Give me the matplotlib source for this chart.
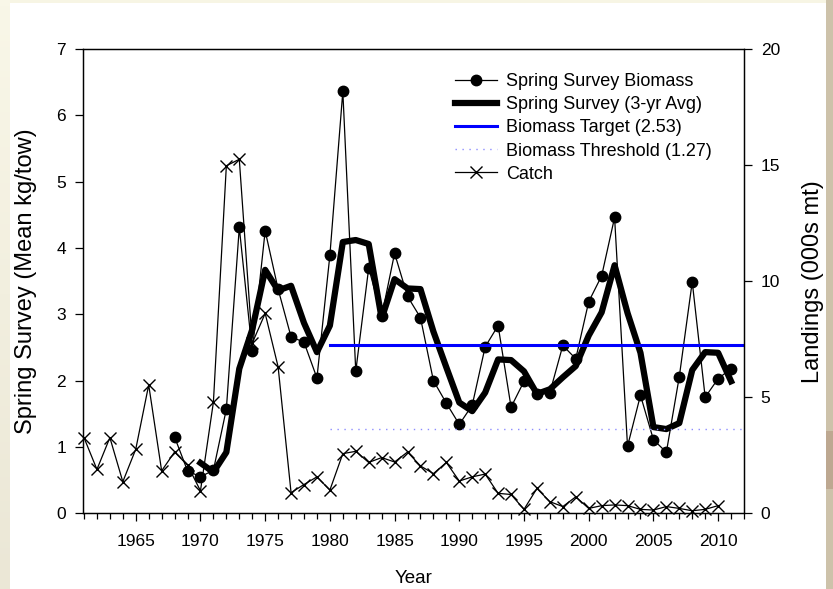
import matplotlib
matplotlib.use('Agg')
import matplotlib.pyplot as plt
import numpy as np
from matplotlib.patches import Rectangle
from matplotlib.ticker import MultipleLocator

plt.rcParams['font.family'] = ['Liberation Sans', 'DejaVu Sans']

# landings (000s mt), right axis
catch_years = list(range(1961, 2011))
catch = [3.26, 1.89, 3.26, 1.36, 2.76, 5.53, 1.83, 2.64, 2.07, 0.97,
         4.79, 14.97, 15.25, 7.33, 8.61, 6.31, 0.89, 1.24, 1.57, 1.00,
         2.57, 2.67, 2.19, 2.40, 2.21, 2.64, 2.04, 1.71, 2.19, 1.39,
         1.57, 1.69, 0.86, 0.81, 0.17, 1.07, 0.50, 0.29, 0.71, 0.21,
         0.33, 0.36, 0.33, 0.17, 0.14, 0.29, 0.21, 0.11, 0.17, 0.33]

# spring survey biomass (mean kg/tow), left axis
survey_years = list(range(1968, 2012))
survey = [1.15, 0.64, 0.55, 0.65, 1.57, 4.31, 2.44, 4.26, 3.38, 2.66,
          2.58, 2.04, 3.89, 6.36, 2.14, 3.70, 2.97, 3.92, 3.27, 2.95,
          2.00, 1.66, 1.34, 1.63, 2.51, 2.83, 1.60, 1.99, 1.80, 1.82,
          2.53, 2.33, 3.19, 3.58, 4.46, 1.01, 1.78, 1.11, 0.92, 2.06,
          3.49, 1.75, 2.03, 2.18]

avg_years = list(range(1970, 2012))
survey_avg = [0.76, 0.62, 0.92, 2.18, 2.77, 3.67, 3.36, 3.43, 2.87, 2.43,
              2.83, 4.09, 4.12, 4.06, 2.94, 3.53, 3.39, 3.38, 2.74, 2.20,
              1.67, 1.54, 1.82, 2.32, 2.31, 2.14, 1.80, 1.87, 2.05, 2.22,
              2.68, 3.03, 3.74, 3.02, 2.42, 1.30, 1.27, 1.36, 2.16, 2.43,
              2.42, 1.99]

target = 2.53
threshold = 1.27
ref_years = [1980, 2012]

fig = plt.figure(figsize=(8.33, 5.89), dpi=100)
fig.patch.set_facecolor('#f7f5e4')

# slide background: cream strip on the left (slight gradient), white page, tan strip right
bg = fig.add_axes([0, 0, 1, 1], zorder=-10)
bg.axis('off')
grad = np.linspace(0, 1, 100).reshape(-1, 1)
bg.imshow(grad, extent=[0, 10/833, 0, 1], aspect='auto', cmap=matplotlib.colors.LinearSegmentedColormap.from_list('cr', ['#f9f7e8', '#ebe7d6']),
          origin='upper')
bg.add_patch(Rectangle((10/833, 0), 816/833, 586/589, facecolor='white', edgecolor='none'))
bg.add_patch(Rectangle((826/833, 0), 7/833, 1, facecolor='#cdc2aa', edgecolor='none'))
bg.add_patch(Rectangle((826/833, 100/589), 7/833, 58/589, facecolor='#bda891', edgecolor='none'))
bg.set_xlim(0, 1)
bg.set_ylim(0, 1)

ax = fig.add_axes([82.7/833, 75.7/589, 661.3/833, 464.3/589])
ax.set_facecolor('none')
ax2 = ax.twinx()

l1, = ax.plot(survey_years, survey, color='black', lw=0.9, marker='o', ms=7.5,
              label='Spring Survey Biomass')
l2, = ax.plot(avg_years, survey_avg, color='black', lw=4.5, solid_joinstyle='round',
              label='Spring Survey (3-yr Avg)')
l3, = ax.plot(ref_years, [target, target], color='#0000ff', lw=2.2,
              label='Biomass Target (2.53)')
l4, = ax.plot(ref_years, [threshold, threshold], color='#8c8cff', lw=1.0, ls=(0, (1, 4)),
              label='Biomass Threshold (1.27)')
l5, = ax2.plot(catch_years, catch, color='black', lw=0.9, marker='x', ms=8, mew=1.0,
               label='Catch', clip_on=False)

ax.set_xlim(1960.9, 2012)
ax.set_ylim(0, 7)
ax2.set_ylim(0, 20)

ax.xaxis.set_major_locator(MultipleLocator(5))
ax.xaxis.set_minor_locator(MultipleLocator(1))
ax.set_yticks(range(0, 8))
ax2.set_yticks([0, 5, 10, 15, 20])

ax.tick_params(axis='x', which='major', direction='out', length=6, width=0.9, labelsize=12.5, pad=9)
ax.tick_params(axis='x', which='minor', direction='out', length=4, width=0.9)
ax.tick_params(axis='y', direction='out', length=6, width=0.9, labelsize=12.5, pad=6)
ax2.tick_params(axis='y', direction='out', length=6, width=0.9, labelsize=12.5, pad=6)
for a in (ax, ax2):
    for s in a.spines.values():
        s.set_linewidth(0.9)

ax.set_xlabel('Year', fontsize=13.5, labelpad=15)
ax.set_ylabel('Spring Survey (Mean kg/tow)', fontsize=17)
ax.yaxis.set_label_coords(-0.069, 0.5)
ax2.set_ylabel('Landings (000s mt)', fontsize=17)
ax2.yaxis.set_label_coords(1.0877, 0.5)

ax.legend(handles=[l1, l2, l3, l4, l5], loc='upper left', bbox_to_anchor=(0.563, 0.948),
          frameon=False, fontsize=13, handlelength=2.3, handletextpad=0.55,
          labelspacing=0.34, borderpad=0, borderaxespad=0)

fig.savefig('out.png', dpi=100, facecolor=fig.get_facecolor())
